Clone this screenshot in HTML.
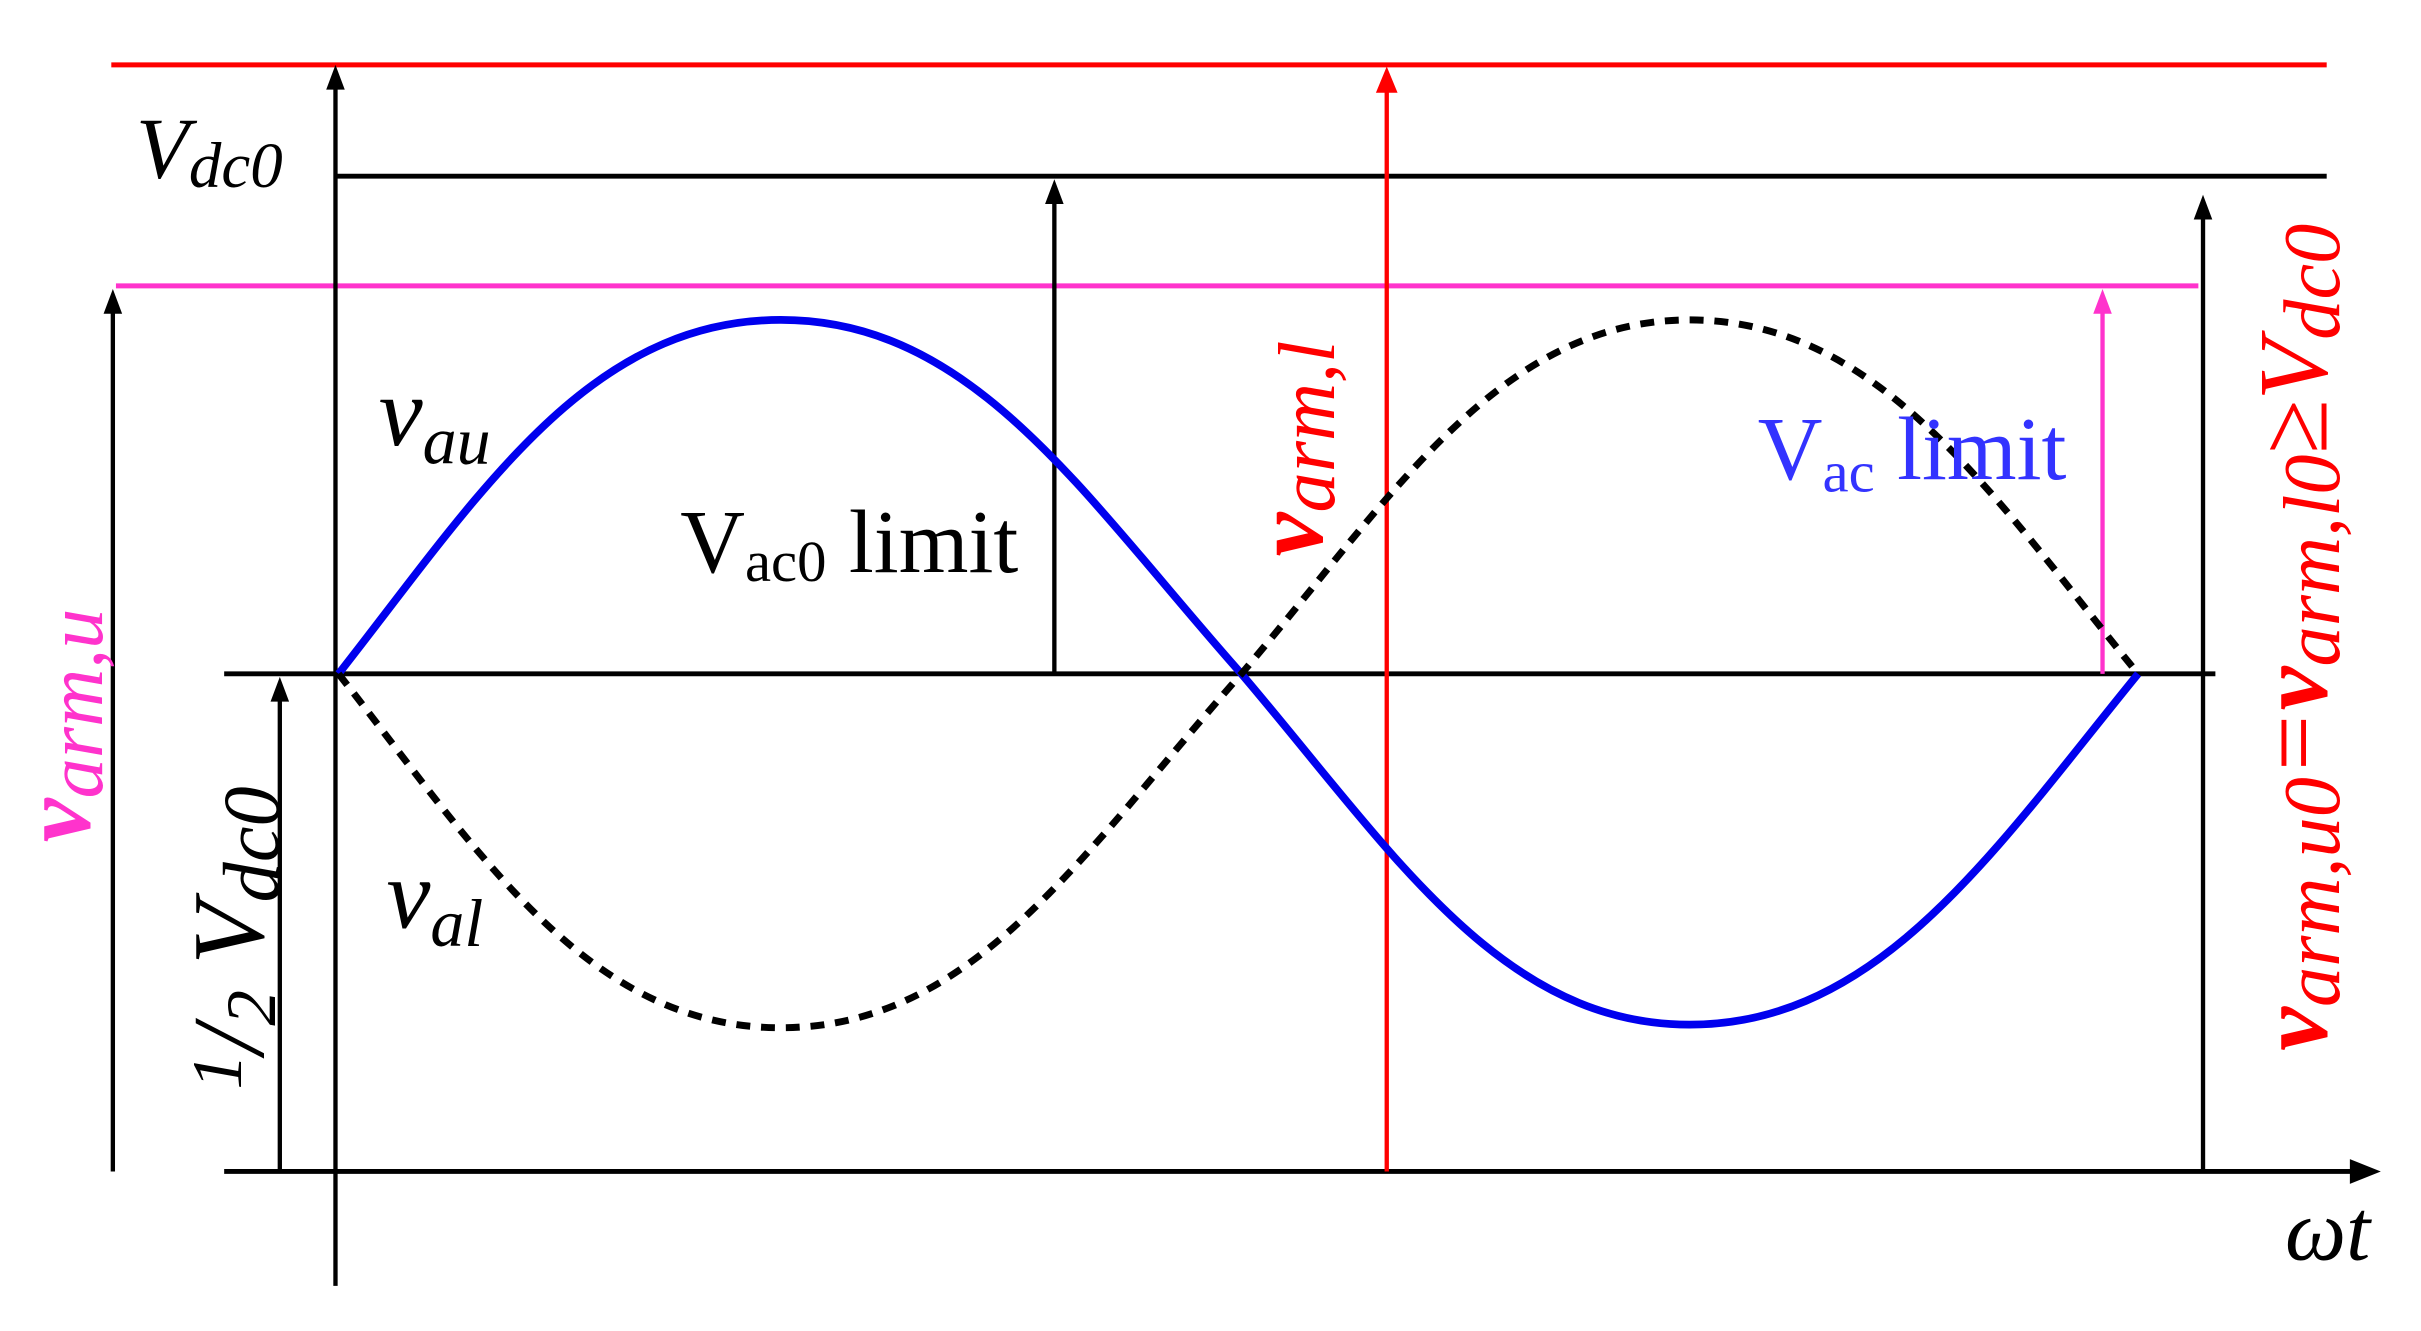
<!DOCTYPE html>
<html><head><meta charset="utf-8"><style>html,body{margin:0;padding:0;background:#fff;overflow:hidden}</style></head>
<body>
<svg width="2421" height="1326" viewBox="0 0 1566 858" preserveAspectRatio="none" xmlns="http://www.w3.org/2000/svg" font-family="Liberation Serif, serif">
<g stroke-width="3.2" fill="none">
<line x1="72" y1="42" x2="1505" y2="42" stroke="#f00"/>
<line x1="217" y1="114" x2="1505" y2="114" stroke="#000"/>
<line x1="75" y1="185" x2="1422" y2="185" stroke="#ff33cc"/>
<line x1="145" y1="436" x2="1433" y2="436" stroke="#000"/>
<line x1="145" y1="758" x2="1530" y2="758" stroke="#000"/>
</g>
<path d="M1540,758 L1520,750 L1520,766 Z" fill="#000"/>
<g stroke-width="2.8">
<line x1="217" y1="832" x2="217" y2="55" stroke="#000"/>
<line x1="73" y1="758" x2="73" y2="200" stroke="#000"/>
<line x1="181" y1="758" x2="181" y2="450" stroke="#000"/>
<line x1="682" y1="436" x2="682" y2="128" stroke="#000"/>
<line x1="897" y1="758" x2="897" y2="56" stroke="#f00"/>
<line x1="1425" y1="758" x2="1425" y2="139" stroke="#000"/>
<line x1="1360" y1="436" x2="1360" y2="199" stroke="#ff33cc"/>
</g>
<path d="M217,42 l-6,16 h12z M73,187 l-6,16 h12z M181,438 l-6,16 h12z M682,116 l-6,16 h12z M1425,126 l-6,16 h12z" fill="#000"/>
<path d="M897,43 l-7,17 h14z" fill="#f00"/>
<path d="M1360,187 l-6,16 h12z" fill="#ff33cc"/>
<path d="M219,436 C310,320 380,207 505,207 C630,207 700,320 803,436 C900,550 970,663 1093,663 C1216,663 1290,550 1383,436" stroke="#0000ee" stroke-width="5" fill="none"/>
<path d="M219,436 C310,552 380,665 505,665 C630,665 700,552 803,436 C900,322 970,207 1093,207 C1216,207 1290,322 1383,436" stroke="#000" stroke-width="4.5" stroke-dasharray="9,7" fill="none"/>
<g font-style="italic">
<text x="88" y="115" font-size="56">V<tspan font-size="42" dy="6">dc0</tspan></text>
<text x="245" y="288" font-size="64">v<tspan font-size="44" dy="12">au</tspan></text>
<text x="250" y="600" font-size="64">v<tspan font-size="44" dy="12">al</tspan></text>
<text x="1478" y="815" font-size="56">ωt</text>
</g>
<text x="440" y="370" font-size="58">V<tspan font-size="38" dy="6">ac0</tspan><tspan dy="-6"> limit</tspan></text>
<text x="1137" y="310" font-size="58" fill="#3333ff">V<tspan font-size="38" dy="8">ac</tspan><tspan dy="-8"> limit</tspan></text>
<g font-style="italic">
<text transform="translate(58,545) rotate(-90)" font-size="64" fill="#ff33cc" font-weight="bold">v<tspan font-size="52" dy="8" font-weight="normal">arm,u</tspan></text>
<text transform="translate(170,705) rotate(-90)" font-size="66"><tspan font-size="46" dy="-14">1</tspan><tspan dy="14">/</tspan><tspan font-size="46" dy="8">2</tspan><tspan dy="-8"> V</tspan><tspan font-size="52" dy="10">dc0</tspan></text>
<text transform="translate(855,360) rotate(-90)" font-size="64" fill="#f00" font-weight="bold">v<tspan font-size="52" dy="8" font-weight="normal">arm,l</tspan></text>
<text transform="translate(1505,680) rotate(-90)" font-size="64" fill="#f00"><tspan font-weight="bold">v</tspan><tspan font-size="52" dy="8">arm,u0</tspan><tspan dy="-8">=</tspan><tspan font-weight="bold">v</tspan><tspan font-size="52" dy="8">arm,l0</tspan><tspan dy="-8">≥V</tspan><tspan font-size="52" dy="8">dc0</tspan></text>
</g>
</svg>
</body></html>
